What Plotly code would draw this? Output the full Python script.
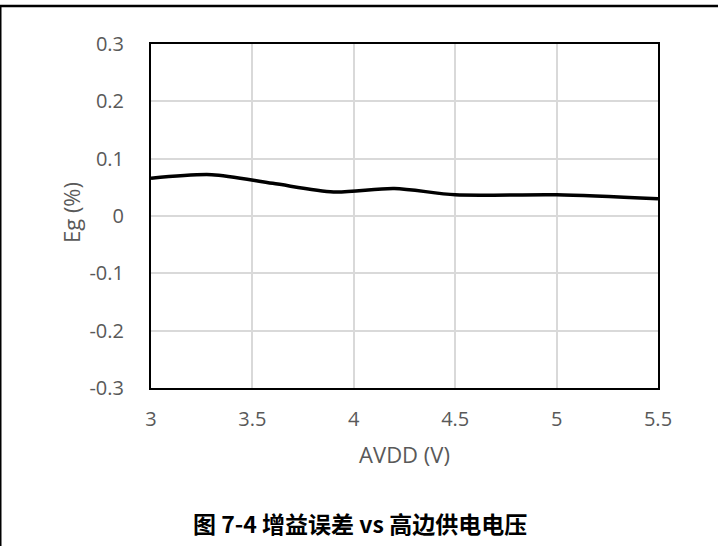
import plotly.graph_objects as go

avdd = [3.0, 3.3, 3.6, 3.9, 4.2, 4.5, 5.0, 5.5]
eg = [0.066, 0.072, 0.057, 0.042, 0.048, 0.037, 0.037, 0.030]
x_ticks = [3, 3.5, 4, 4.5, 5, 5.5]
x_tick_labels = ["3", "3.5", "4", "4.5", "5", "5.5"]
y_ticks = [0.3, 0.2, 0.1, 0, -0.1, -0.2, -0.3]
y_tick_labels = ["0.3", "0.2", "0.1", "0", "-0.1", "-0.2", "-0.3"]

W, H = 718, 546
L, R, T, B = 151, 60, 44, 158
pw, ph = W - L - R, H - T - B

def px(x):
    return (x - L) / pw

def py(y):
    return (H - B - y) / ph

fig = go.Figure()
fig.add_trace(go.Scatter(x=avdd, y=eg, mode="lines",
                         line=dict(color="black", width=3.5, shape="spline", smoothing=0.8),
                         showlegend=False, hoverinfo="skip"))

tickfont = dict(family="Open Sans, Liberation Sans, sans-serif", size=20, color="#595959")
titlefont = dict(family="Open Sans, Liberation Sans, sans-serif", size=22, color="#595959")
fig.update_xaxes(range=[3, 5.5], tickvals=x_ticks, ticktext=x_tick_labels,
                 showgrid=True, gridcolor="#d9d9d9", gridwidth=1.5,
                 showline=True, linecolor="black", linewidth=2, mirror=True,
                 ticks="outside", ticklen=12, tickcolor="rgba(0,0,0,0)",
                 tickfont=tickfont, zeroline=False,
                 title=dict(text="AVDD (V)", font=titlefont, standoff=17))
fig.update_yaxes(range=[-0.3, 0.3], tickvals=y_ticks, ticktext=y_tick_labels,
                 showgrid=True, gridcolor="#d9d9d9", gridwidth=1.5,
                 showline=True, linecolor="black", linewidth=2, mirror=True,
                 ticks="outside", ticklen=21, tickcolor="rgba(0,0,0,0)",
                 tickfont=tickfont, zeroline=False)

fig.add_annotation(text="Eg (%)", xref="paper", yref="paper",
                   x=px(71), y=py(213), textangle=-90, showarrow=False,
                   xanchor="center", yanchor="middle", font=titlefont)

# outer frame: top and left lines
fig.add_shape(type="line", xref="paper", yref="paper",
              x0=px(0), x1=px(W), y0=py(6), y1=py(6),
              line=dict(color="black", width=2.5))
fig.add_shape(type="line", xref="paper", yref="paper",
              x0=px(0.5), x1=px(0.5), y0=py(6), y1=py(H),
              line=dict(color="black", width=2))

fig.add_annotation(text="<b>图 7-4 增益误差 vs 高边供电电压</b>",
                   xref="paper", yref="paper", x=px(360), y=py(523),
                   showarrow=False, xanchor="center", yanchor="middle",
                   font=dict(family="Noto Sans CJK SC, sans-serif", size=23, color="black"))

fig.update_layout(width=W, height=H, margin=dict(l=L, r=R, t=T, b=B),
                  paper_bgcolor="white", plot_bgcolor="white")
fig.write_html("out.html", config={"displayModeBar": False},
               post_script="document.body.style.margin='0';")
